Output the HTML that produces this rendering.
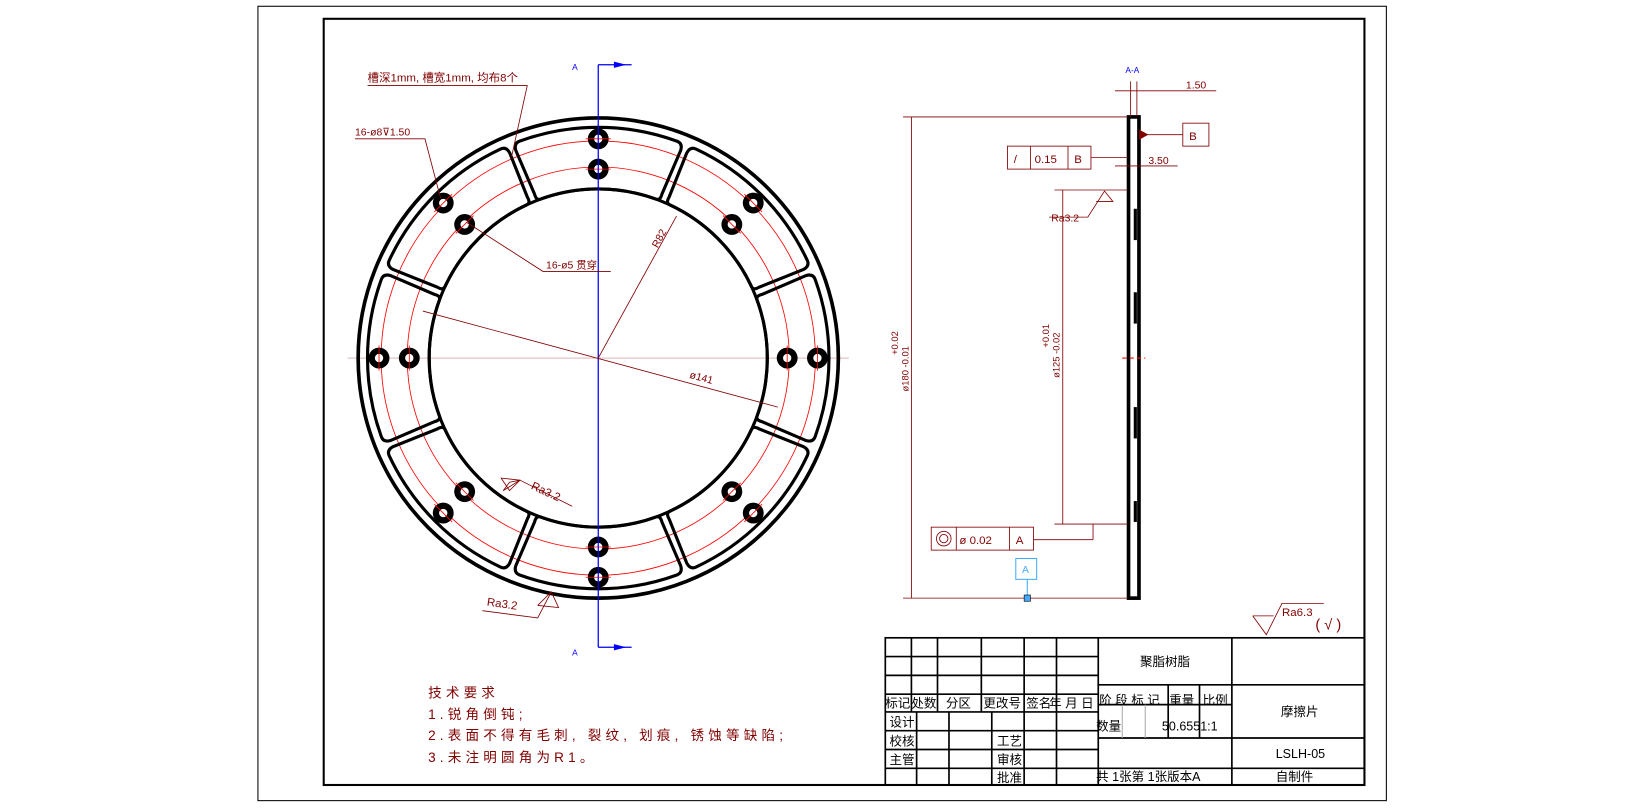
<!DOCTYPE html>
<html><head><meta charset="utf-8"><style>
html,body{margin:0;padding:0;background:#fff;}
svg{display:block;}
text{font-family:"Liberation Sans","Noto Sans CJK SC",sans-serif;}
</style></head><body>
<svg width="1637" height="809" viewBox="0 0 1568 775" xmlns="http://www.w3.org/2000/svg">
<rect x="0" y="0" width="1568" height="775" fill="#fff"/>
<rect x="247" y="6" width="1081" height="761" fill="none" stroke="#000" stroke-width="1"/>
<rect x="310" y="18" width="997" height="734" fill="none" stroke="#000" stroke-width="2"/>

<!-- main view -->
<g transform="translate(573,343)">
  <line x1="-240" y1="0" x2="240" y2="0" stroke="#c88" stroke-width="0.6"/>
  <circle r="230" fill="none" stroke="#000" stroke-width="3.5"/>
  <circle r="208" fill="none" stroke="#f00" stroke-width="0.8"/>
  <circle r="183" fill="none" stroke="#f00" stroke-width="0.8"/>
  <g id="pad">
    <path d="M -75.6 -207.7 A 221 221 0 0 1 75.6 -207.7 Q 81 -205.6 79 -199 L 61 -157 Q 59.4 -150.7 55.4 -152.2 A 162 162 0 0 0 -55.4 -152.2 Q -59.4 -150.7 -61 -157 L -79 -199 Q -81 -205.6 -75.6 -207.7 Z" fill="none" stroke="#000" stroke-width="3"/>
    <circle cx="0" cy="-210" r="10" fill="#000"/><circle cx="0" cy="-210" r="4" fill="#fff"/>
    <circle cx="0" cy="-181" r="10" fill="#000"/><circle cx="0" cy="-181" r="4" fill="#fff"/>
    <line x1="-12" y1="-210" x2="12" y2="-210" stroke="#f00" stroke-width="0.8"/>
    <line x1="-12" y1="-181" x2="12" y2="-181" stroke="#f00" stroke-width="0.8"/>
  </g>
  <use href="#pad" transform="rotate(45)"/>
  <use href="#pad" transform="rotate(90)"/>
  <use href="#pad" transform="rotate(135)"/>
  <use href="#pad" transform="rotate(180)"/>
  <use href="#pad" transform="rotate(225)"/>
  <use href="#pad" transform="rotate(270)"/>
  <use href="#pad" transform="rotate(315)"/>
  <circle r="162" fill="none" stroke="#000" stroke-width="3"/>
</g>
<!-- section line -->
<line x1="573" y1="62" x2="573" y2="620" stroke="#00f" stroke-width="1.2"/>
<line x1="573" y1="62" x2="605" y2="62" stroke="#00f" stroke-width="1.2"/>
<polygon points="588,59 600,62 588,65" fill="#00f"/>
<line x1="573" y1="620" x2="605" y2="620" stroke="#00f" stroke-width="1.2"/>
<polygon points="588,617 600,620 588,623" fill="#00f"/>
<text x="548" y="67" font-size="8" fill="#00f">A</text>
<text x="548" y="628" font-size="8" fill="#00f">A</text>

<!-- dimensions main -->
<g stroke="#800000" stroke-width="0.8" fill="none">
  <line x1="573" y1="343" x2="648" y2="207"/>
  <line x1="405" y1="298" x2="745" y2="390"/>
  <polyline points="352,82 505,82 490,150"/>
  <polyline points="340,133 407,133 422,190"/>
  <polyline points="447,213 520,260 585,260"/>
  <polyline points="482,470 498,460 548,485"/>
  <polyline points="482,470 488,462 498,460"/>
  <polyline points="462,585 515,592 528,567"/>
  <polyline points="515,580 528,567 535,582 515,580"/>
  <polygon points="488,470 480,458 498,460"/>
</g>
<text x="352" y="78" font-size="11" fill="#800000">槽深1mm, 槽宽1mm, 均布8个</text>
<text x="340" y="130" font-size="10" fill="#800000">16-ø8⊽1.50</text>
<text x="523" y="257" font-size="10" fill="#800000">16-ø5 贯穿</text>
<text x="0" y="0" font-size="10" fill="#800000" transform="translate(630,238) rotate(-62)">R82</text>
<text x="0" y="0" font-size="10" fill="#800000" transform="translate(660,362) rotate(15)">ø141</text>
<text x="0" y="0" font-size="11" fill="#800000" transform="translate(508,468) rotate(25)">Ra3.2</text>
<text x="0" y="0" font-size="11" fill="#800000" transform="translate(466,580) rotate(8)">Ra3.2</text>

<!-- tech req -->
<g font-size="13" fill="#800000" letter-spacing="4">
<text x="410" y="668">技术要求</text>
<text x="410" y="689">1.锐角倒钝;</text>
<text x="410" y="709">2.表面不得有毛刺, 裂纹, 划痕, 锈蚀等缺陷;</text>
<text x="410" y="730">3.未注明圆角为R1。</text>
</g>

<!-- side view -->
<rect x="1081" y="112" width="10" height="461" fill="#fff" stroke="#000" stroke-width="3.5"/>
<rect x="1086" y="200" width="3" height="30" fill="#000"/>
<rect x="1086" y="280" width="3" height="30" fill="#000"/>
<rect x="1086" y="390" width="3" height="30" fill="#000"/>
<rect x="1086" y="480" width="3" height="20" fill="#000"/>
<line x1="1075" y1="343" x2="1097" y2="343" stroke="#f00" stroke-dasharray="4,3"/>
<text x="1078" y="70" font-size="8" fill="#00f">A-A</text>
<g stroke="#800000" stroke-width="0.8" fill="none">
  <line x1="1083" y1="78" x2="1083" y2="112"/><line x1="1089" y1="78" x2="1089" y2="112"/>
  <line x1="1068" y1="87" x2="1165" y2="87"/>
  <line x1="865" y1="112" x2="1080" y2="112"/>
  <line x1="865" y1="573" x2="1080" y2="573"/>
  <line x1="873" y1="112" x2="873" y2="573"/>
  <line x1="1010" y1="182" x2="1080" y2="182"/>
  <line x1="1018" y1="182" x2="1018" y2="502"/>
  <line x1="1010" y1="502" x2="1080" y2="502"/>
  <line x1="1047" y1="502" x2="1047" y2="517"/>
  <line x1="990" y1="517" x2="1047" y2="517"/>
  <line x1="1045" y1="151" x2="1080" y2="151"/>
  <line x1="1068" y1="159" x2="1128" y2="159"/>
  <line x1="1097" y1="129" x2="1133" y2="129"/>
  <polyline points="1005,208 1042,208 1058,183 1066,193 1050,193"/>
  <rect x="965" y="140" width="80" height="22"/>
  <line x1="987" y1="140" x2="987" y2="162"/><line x1="1023" y1="140" x2="1023" y2="162"/>
  <rect x="1133" y="118" width="25" height="22"/>
  <rect x="892" y="505" width="98" height="22"/>
  <line x1="916" y1="505" x2="916" y2="527"/><line x1="967" y1="505" x2="967" y2="527"/>
  <circle cx="904" cy="516" r="7"/><circle cx="904" cy="516" r="4"/>
  <polyline points="1200,590 1213,608 1228,578 1268,578"/>
  <line x1="1200" y1="590" x2="1220" y2="590"/>
</g>
<polygon points="1091,124 1100,129 1091,134" fill="#800000"/>
<text x="1136" y="85" font-size="10" fill="#800000">1.50</text>
<text x="1100" y="157" font-size="10" fill="#800000">3.50</text>
<text x="1139" y="134" font-size="11" fill="#800000">B</text>
<text x="971" y="156" font-size="11" fill="#800000">/</text>
<text x="991" y="156" font-size="11" fill="#800000">0.15</text>
<text x="1029" y="156" font-size="11" fill="#800000">B</text>
<text x="1007" y="212" font-size="10" fill="#800000">Ra3.2</text>
<text x="919" y="521" font-size="11" fill="#800000">ø 0.02</text>
<text x="973" y="521" font-size="11" fill="#800000">A</text>
<text x="0" y="0" font-size="9" fill="#800000" transform="translate(870,375) rotate(-90)">ø180 -0.01</text>
<text x="0" y="0" font-size="9" fill="#800000" transform="translate(860,340) rotate(-90)">+0.02</text>
<text x="0" y="0" font-size="9" fill="#800000" transform="translate(1015,362) rotate(-90)">ø125 -0.02</text>
<text x="0" y="0" font-size="9" fill="#800000" transform="translate(1005,333) rotate(-90)">+0.01</text>
<rect x="973" y="535" width="20" height="20" fill="none" stroke="#4af" stroke-width="1"/>
<text x="979" y="549" font-size="10" fill="#4af">A</text>
<line x1="984" y1="555" x2="984" y2="570" stroke="#4af"/>
<rect x="981" y="570" width="6" height="6" fill="#4af" stroke="#000" stroke-width="0.6"/>
<text x="1228" y="590" font-size="11" fill="#800000">Ra6.3</text>
<text x="1260" y="603" font-size="14" fill="#800000">( √ )</text>

<!-- title block -->
<g stroke="#000" stroke-width="1.6" fill="none">
  <rect x="848" y="611" width="459" height="141"/>
  <line x1="848" y1="629" x2="1052" y2="629"/>
  <line x1="848" y1="647" x2="1052" y2="647"/>
  <line x1="848" y1="665" x2="1052" y2="665"/>
  <line x1="848" y1="682" x2="1052" y2="682"/>
  <line x1="848" y1="700" x2="1052" y2="700"/>
  <line x1="848" y1="718" x2="1052" y2="718"/>
  <line x1="848" y1="736" x2="1052" y2="736"/>
  <line x1="873" y1="611" x2="873" y2="682"/>
  <line x1="898" y1="611" x2="898" y2="682"/>
  <line x1="940" y1="611" x2="940" y2="682"/>
  <line x1="981" y1="611" x2="981" y2="752"/>
  <line x1="1012" y1="611" x2="1012" y2="752"/>
  <line x1="878" y1="682" x2="878" y2="752"/>
  <line x1="909" y1="682" x2="909" y2="752"/>
  <line x1="950" y1="682" x2="950" y2="752"/>
  <line x1="1052" y1="611" x2="1052" y2="752"/>
  <line x1="1180" y1="611" x2="1180" y2="752"/>
  <line x1="1052" y1="656" x2="1307" y2="656"/>
  <line x1="1052" y1="707" x2="1307" y2="707"/>
  <line x1="1052" y1="736" x2="1307" y2="736"/>
  <line x1="1052" y1="675" x2="1180" y2="675"/>
  <line x1="1119" y1="656" x2="1119" y2="707"/>
  <line x1="1149" y1="656" x2="1149" y2="707"/>
</g>
<line x1="1075" y1="675" x2="1075" y2="707" stroke="#aaa"/>
<line x1="1097" y1="675" x2="1097" y2="707" stroke="#aaa"/>
<g font-size="12" fill="#000">
<text x="848" y="678">标记</text><text x="873" y="678">处数</text><text x="906" y="678">分区</text>
<text x="942" y="678">更改号</text><text x="983" y="678">签名</text><text x="1005" y="678">年 月 日</text>
<text x="852" y="696">设计</text><text x="852" y="714">校核</text><text x="852" y="732">主管</text>
<text x="955" y="714">工艺</text><text x="955" y="732">审核</text><text x="955" y="749">批准</text>
<text x="1092" y="638">聚脂树脂</text>
<text x="1053" y="675">阶 段 标 记</text><text x="1120" y="675">重量</text><text x="1152" y="675">比例</text>
<text x="1050" y="700">数量</text><text x="1113" y="700">50.6551:1</text>
<text x="1227" y="686">摩擦片</text>
<text x="1222" y="726">LSLH-05</text>
<text x="1050" y="748">共 1张第 1张版本A</text>
<text x="1222" y="748">自制件</text>
</g>
</svg>
</body></html>
